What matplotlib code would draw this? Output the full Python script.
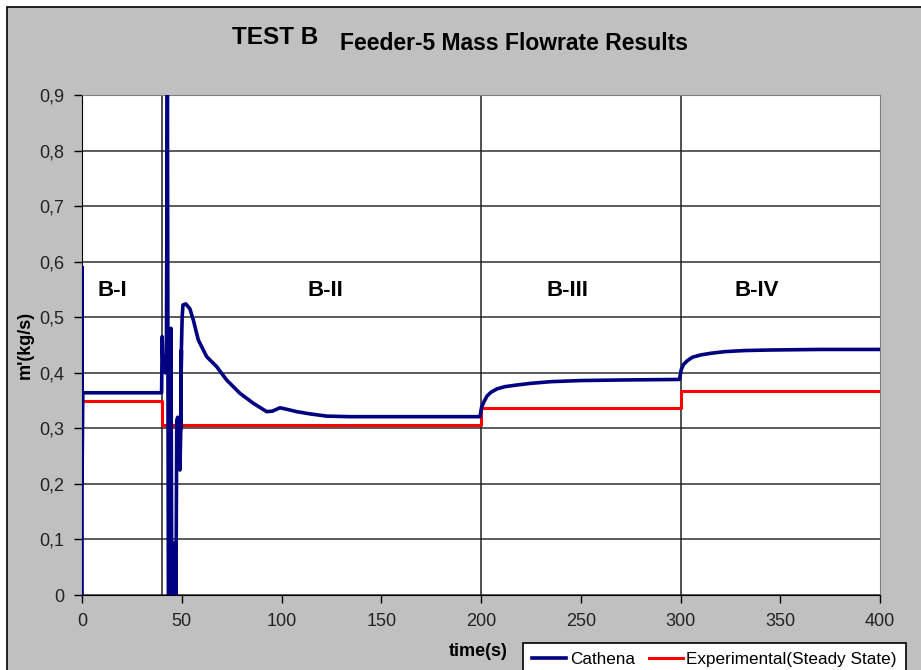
#!/usr/bin/env python3
import numpy as np
import matplotlib as mpl
mpl.use('Agg')
import matplotlib.pyplot as plt
from matplotlib.patches import Rectangle
from matplotlib.ticker import FuncFormatter, MultipleLocator

plt.rcParams['font.family'] = ['Liberation Sans', 'DejaVu Sans']

# Cathena simulation (time in s, mass flowrate in kg/s)
cathena_t = [0, 0, 0, 0.4, 39.9, 40.2, 40.6, 41.2, 41.8, 42.3, 42.8, 43.3,
             43.8, 44.2, 44.6, 45.0, 45.4, 45.9, 46.6, 47.1, 47.5, 48.0,
             48.8, 49.1, 49.5, 49.8, 49.5, 49.8, 50.2, 50.6, 52.0, 54.1,
             55.8, 58.3, 62.5, 67.5, 72.5, 79.2, 85.9, 92.6, 95.5,
             99.2, 103.0, 107.6, 114.3, 122.6, 134.0, 160.0, 199.5,
             200.3, 201.5, 203.0, 205.0, 208.0, 212.0, 218.0, 225.0, 235.0,
             250.0, 270.0, 299.5, 300.3, 301.5, 303.5, 306.0, 310.0, 315.0,
             322.0, 332.0, 345.0, 370.0, 400.0]
cathena_m = [0.0, 0.59, 0.2, 0.364, 0.364, 0.465, 0.41, 0.43, 0.40, 0.42, 0.95, 0.0,
             0.0, 0.195, 0.48, 0.0, 0.0, 0.093, 0.093, 0.0, 0.315, 0.32,
             0.315, 0.225, 0.30, 0.44, 0.30, 0.44, 0.50, 0.522, 0.524, 0.515,
             0.495, 0.459, 0.429, 0.411, 0.387, 0.363, 0.345, 0.330, 0.331,
             0.337, 0.334, 0.330, 0.326, 0.322, 0.321, 0.321, 0.321,
             0.338, 0.348, 0.358, 0.365, 0.371, 0.375, 0.378, 0.381, 0.384,
             0.386, 0.387, 0.388, 0.405, 0.415, 0.422, 0.428, 0.432, 0.435,
             0.438, 0.440, 0.441, 0.442, 0.442]

# Experimental steady-state values per phase
exp_t = [0, 40, 40, 200, 200, 300, 300, 400]
exp_m = [0.350, 0.350, 0.306, 0.306, 0.337, 0.337, 0.368, 0.368]

phase_bounds = [40, 200, 300]
phase_labels = ['B-I', 'B-II', 'B-III', 'B-IV']
phase_label_t = [15.3, 122, 243.5, 338]
phase_label_y = 0.549

W, H = 921, 670


def create_axes():
    fig = plt.figure(figsize=(W / 100, H / 100), dpi=100)
    fig.patch.set_facecolor('white')
    # grey chart frame
    fig.patches.append(Rectangle((7 / W, -0.05), 1.05, 1 - 7 / H + 0.05,
                                 transform=fig.transFigure, fc='#c0c0c0',
                                 ec='black', lw=1.2, zorder=-10))
    x0, x1 = 82 / W, 880 / W
    y0, y1 = 1 - 595 / H, 1 - 95 / H
    ax = fig.add_axes((x0, y0, x1 - x0, y1 - y0))
    ax.set_facecolor('white')
    return fig, ax


def style_axes(ax):
    ax.set_xlim(0, 400)
    ax.set_ylim(0, 0.9)
    ax.xaxis.set_major_locator(MultipleLocator(50))
    ax.yaxis.set_major_locator(MultipleLocator(0.1))
    ax.yaxis.set_major_formatter(FuncFormatter(
        lambda v, p: '0' if abs(v) < 1e-9 else f'{v:.1f}'.replace('.', ',')))
    ax.tick_params(direction='out', length=6, width=1, labelsize=13,
                   pad=7, colors='black', labelcolor='#222222')
    ax.grid(axis='y', color='#404040', lw=1.2)
    for s in ['top', 'right']:
        ax.spines[s].set_color('#808080')
    for s in ['left', 'bottom']:
        ax.spines[s].set_color('black')
    for b in phase_bounds:
        ax.axvline(b, color='#202020', lw=1.1, zorder=1.5)
    ax.set_axisbelow(True)


def main():
    fig, ax = create_axes()
    style_axes(ax)

    ax.plot(cathena_t, cathena_m, color='#000080', lw=2.6, label='Cathena',
            zorder=3)
    ax.plot(exp_t, exp_m, color='#ff0000', lw=2.2,
            label='Experimental(Steady State)', zorder=2.5)

    for lab, t in zip(phase_labels, phase_label_t):
        ax.text(t, phase_label_y, lab, ha='center', va='center',
                fontsize=16, fontweight='bold', color='black')

    fig.text(275 / W, 1 - 38 / H, 'TEST B', ha='center', va='center',
             fontsize=17.5, fontweight='bold')
    fig.text(514 / W, 1 - 43 / H, 'Feeder-5 Mass Flowrate Results',
             ha='center', va='center', fontsize=16.5, fontweight='bold')
    fig.text(25 / W, 1 - 345 / H, "m'(kg/s)", rotation='vertical',
             ha='center', va='center', fontsize=13, fontweight='bold')
    fig.text(478 / W, 1 - 652 / H, 'time(s)', ha='center', va='center',
             fontsize=13, fontweight='bold')

    leg = fig.legend(loc='lower right', bbox_to_anchor=(906 / W, -0.01),
                     ncol=2, fontsize=12.3, frameon=True, fancybox=False,
                     handlelength=2.0, handletextpad=0.2, columnspacing=0.8,
                     borderpad=0.55, borderaxespad=0)
    leg.get_frame().set_edgecolor('black')
    leg.get_frame().set_linewidth(1.2)
    leg.get_frame().set_alpha(1)

    fig.savefig('out.png', dpi=100)


if (__name__ == "__main__"):
    main()
